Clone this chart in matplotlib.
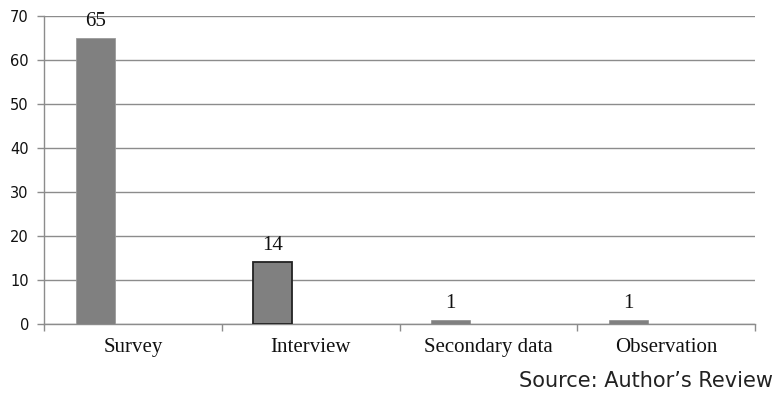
import matplotlib
matplotlib.use("Agg")
import matplotlib.pyplot as plt
import numpy as np

categories = ["Survey", "Interview", "Secondary data", "Observation"]
counts = [65, 14, 1, 1]
y_ticks = [0, 10, 20, 30, 40, 50, 60, 70]

fig = plt.figure(figsize=(7.75, 4.01), dpi=100)
ax = fig.add_axes([0.057, 0.192, 0.917, 0.768])

x = np.arange(len(categories))
offset = -0.213
width = 0.22
edges = ["#9a9a9a", "#222222", "#808080", "#808080"]
lws = [0.6, 1.3, 0.4, 0.4]
ax.bar(x + offset, counts, width=width, color="#808080",
       edgecolor=edges, linewidth=lws, zorder=3)

for xi, v in zip(x + offset, counts):
    ax.text(xi, v + 1.6, str(v), ha="center", va="bottom",
            family="Liberation Serif", fontsize=15, color="#111111")

ax.set_xlim(-0.5, len(categories) - 0.5)
ax.set_ylim(0, 70)
ax.set_yticks(y_ticks)
ax.yaxis.grid(True, color="#8c8c8c", linewidth=1.0, zorder=0)
ax.set_axisbelow(True)

ax.set_xticks(np.arange(len(categories) + 1) - 0.5)
ax.set_xticklabels([])
ax.set_xticks(x, minor=True)
ax.set_xticklabels(categories, minor=True, family="Liberation Serif", fontsize=15,
                   color="#111111")
ax.tick_params(axis="x", which="minor", length=0, pad=10)
ax.tick_params(axis="x", which="major", length=5, color="#8c8c8c", width=1.0, direction="out")
ax.tick_params(axis="y", length=5, color="#8c8c8c", width=1.0, labelsize=10.5, pad=6,
               labelcolor="#111111")

for side in ["top", "right"]:
    ax.spines[side].set_visible(False)
for side in ["left", "bottom"]:
    ax.spines[side].set_color("#8c8c8c")
    ax.spines[side].set_linewidth(1.0)

fig.text(0.998, 0.05, "Source: Author\u2019s Review", ha="right", va="center",
         family="DejaVu Sans", fontsize=15, color="#222222")

fig.savefig("out.png", dpi=100)
